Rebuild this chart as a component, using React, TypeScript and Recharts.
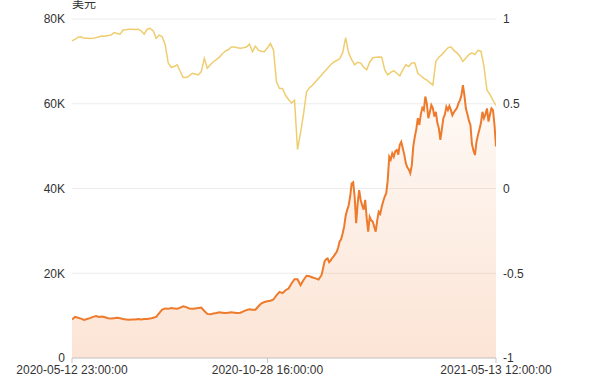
import React from "react";
import { ComposedChart, Area, Line, XAxis, YAxis, CartesianGrid } from "recharts";

// BTC price (thousand USD), one sample per step, steps 0..83
const priceEarlyK: number[] = [
  9.1, 9.7, 9.5, 9.3, 9.0, 9.2, 9.4, 9.7, 9.9, 9.7,
  9.8, 9.6, 9.4, 9.3, 9.4, 9.5, 9.4, 9.2, 9.1, 9.0,
  9.1, 9.1, 9.2, 9.1, 9.2, 9.2, 9.3, 9.5, 9.7, 10.6,
  11.4, 11.7, 11.6, 11.8, 11.7, 11.6, 11.9, 12.2, 12.0, 11.7,
  11.6, 11.7, 11.8, 11.9, 11.1, 10.4, 10.3, 10.5, 10.6, 10.8,
  10.7, 10.6, 10.7, 10.8, 10.7, 10.6, 10.7, 11.0, 11.3, 11.5,
  11.4, 11.4, 12.2, 12.9, 13.2, 13.4, 13.5, 13.8, 14.8, 15.6,
  15.3, 16.0, 16.4, 17.6, 18.6, 18.6, 17.2, 18.4, 19.4, 19.3,
  19.0, 18.8, 18.5, 19.6,
];

// BTC price (thousand USD), two samples per step, steps 84..141
const priceLateK: number[] = [
  22.8, 23.3, 23.5, 22.6, 23.0, 23.6, 24.0, 24.5, 25.0, 26.0,
  27.5, 28.0, 29.4, 31.0, 33.5, 34.9, 36.0, 38.1, 41.2, 41.5,
  38.0, 31.8, 36.5, 39.6, 37.3, 36.0, 35.0, 37.3, 33.0, 29.8,
  33.3, 32.5, 32.2, 31.0, 29.8, 32.5, 34.5, 34.0, 35.7, 37.0,
  38.1, 38.9, 42.0, 47.5, 46.8, 48.3, 47.5, 48.8, 49.1, 48.0,
  50.3, 51.0, 49.5, 48.0, 46.0, 45.0, 44.5, 43.6, 45.5, 50.0,
  52.2, 54.0, 56.6, 55.0, 57.5, 59.0, 58.5, 61.7, 60.0, 56.6,
  58.0, 59.7, 59.0, 57.0, 58.1, 55.5, 54.2, 51.5, 54.0, 56.6,
  57.5, 59.3, 58.5, 59.5, 58.5, 57.3, 58.0, 58.5, 59.0, 60.1,
  60.8, 62.0, 64.4, 62.0, 58.8, 57.5, 56.0, 55.0, 50.5, 49.0,
  47.9, 51.0, 52.6, 54.0, 55.5, 58.1, 56.6, 57.5, 58.9, 55.8,
  57.5, 58.9, 58.5, 55.0, 49.9,
];

// correlation coefficient (right axis), one sample per step, steps 0..141
const corr: number[] = [
  0.871, 0.88, 0.893, 0.895, 0.886, 0.887, 0.885, 0.886, 0.89, 0.895,
  0.90, 0.898, 0.902, 0.905, 0.92, 0.915, 0.91, 0.935, 0.937, 0.94,
  0.94, 0.938, 0.94, 0.93, 0.91, 0.94, 0.945, 0.93, 0.886, 0.905,
  0.895, 0.847, 0.74, 0.715, 0.72, 0.73, 0.69, 0.655, 0.655, 0.665,
  0.68, 0.675, 0.67, 0.69, 0.768, 0.71, 0.73, 0.748, 0.76, 0.775,
  0.795, 0.81, 0.82, 0.835, 0.835, 0.83, 0.827, 0.83, 0.835, 0.852,
  0.807, 0.84, 0.815, 0.81, 0.807, 0.83, 0.855, 0.817, 0.63, 0.59,
  0.59, 0.55, 0.525, 0.505, 0.52, 0.23, 0.33, 0.44, 0.57, 0.595,
  0.61, 0.63, 0.65, 0.67, 0.69, 0.71, 0.73, 0.745, 0.755, 0.765,
  0.80, 0.89, 0.80, 0.76, 0.73, 0.745, 0.74, 0.715, 0.70, 0.745,
  0.77, 0.775, 0.776, 0.775, 0.70, 0.67, 0.685, 0.695, 0.68, 0.665,
  0.70, 0.73, 0.72, 0.74, 0.74, 0.68, 0.665, 0.65, 0.64, 0.625,
  0.61, 0.75, 0.775, 0.79, 0.81, 0.83, 0.836, 0.815, 0.80, 0.78,
  0.75, 0.77, 0.79, 0.80, 0.79, 0.815, 0.81, 0.72, 0.58, 0.555,
  0.52, 0.49,
];

const xTickIndex: number[] = [0, 65, 141];
const xTickLabels: string[] = ["2020-05-12 23:00:00", "2020-10-28 16:00:00", "2021-05-13 12:00:00"];
const leftTicks: number[] = [0, 20, 40, 60, 80];
const rightTicks: number[] = [-1, -0.5, 0, 0.5, 1];

const lateStart = priceEarlyK.length;
const data = [
  ...priceEarlyK.map((p, i) => ({ t: i, price: p, corr: corr[i] })),
  ...priceLateK.map((p, j) => {
    const t = lateStart + j / 2;
    return { t, price: p, corr: Number.isInteger(t) ? corr[t] : undefined };
  }),
];

const FONT = "'Liberation Sans', Arial, 'Noto Sans CJK SC', sans-serif";
const tickStyle = { fontSize: 12, fill: "#333", fontFamily: FONT };

export default function App() {
  return (
    <div style={{ position: "absolute", left: 0, top: 0, width: 600, height: 383, background: "#fff" }}>
      <div
        style={{
          position: "absolute",
          left: 72,
          top: -4,
          fontSize: 12,
          lineHeight: "14px",
          color: "#333",
          fontFamily: "'Noto Sans CJK SC', sans-serif",
        }}
      >
        美元
      </div>
      <ComposedChart width={600} height={383} data={data} margin={{ top: 19, right: 0, bottom: 0, left: 0 }}>
        <defs>
          <linearGradient id="priceFill" x1="0" y1="0" x2="0" y2="1">
            <stop offset="0%" stopColor="#ef7b2f" stopOpacity={0.04} />
            <stop offset="100%" stopColor="#ef7b2f" stopOpacity={0.2} />
          </linearGradient>
        </defs>
        <CartesianGrid yAxisId="left" vertical={false} stroke="#ececec" />
        <XAxis
          dataKey="t"
          type="number"
          domain={[0, corr.length - 1]}
          ticks={xTickIndex}
          tickFormatter={(v: number) => xTickLabels[xTickIndex.indexOf(v)] ?? ""}
          height={25}
          tick={tickStyle}
          stroke="#c8c8c8"
          tickSize={5}
          tickMargin={2}
          interval={0}
          allowDataOverflow
        />
        <YAxis
          yAxisId="left"
          domain={[0, 80]}
          ticks={leftTicks}
          tickFormatter={(v: number) => (v === 0 ? "0" : `${v}K`)}
          width={72}
          axisLine={false}
          tickLine={false}
          tickSize={5}
          tickMargin={2}
          tick={tickStyle}
          interval={0}
        />
        <YAxis
          yAxisId="right"
          orientation="right"
          domain={[-1, 1]}
          ticks={rightTicks}
          width={104}
          axisLine={false}
          tickLine={false}
          tickSize={5}
          tickMargin={2}
          tick={tickStyle}
          interval={0}
        />
        <Area
          yAxisId="left"
          type="linear"
          dataKey="price"
          stroke="#ee7a2c"
          strokeWidth={2}
          fill="url(#priceFill)"
          fillOpacity={1}
          dot={false}
          activeDot={false}
          isAnimationActive={false}
        />
        <Line
          yAxisId="right"
          type="linear"
          dataKey="corr"
          stroke="#efcd6f"
          strokeWidth={1.5}
          dot={false}
          activeDot={false}
          connectNulls
          isAnimationActive={false}
        />
      </ComposedChart>
    </div>
  );
}
